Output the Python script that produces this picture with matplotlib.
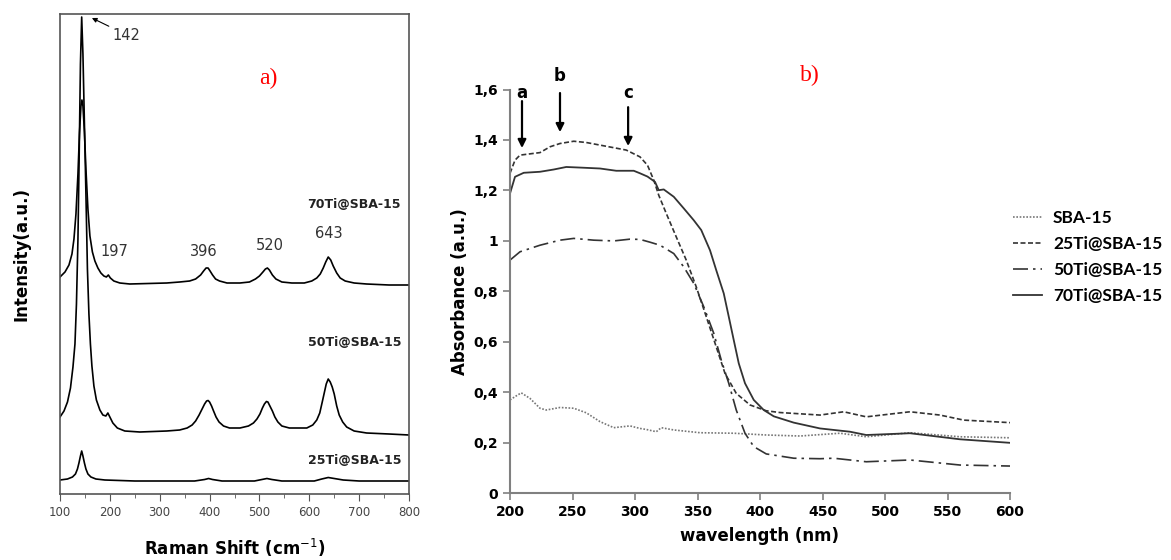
import matplotlib
matplotlib.use("Agg")
import matplotlib.pyplot as plt
from matplotlib.ticker import MultipleLocator, FuncFormatter

# ---- a) Raman spectra (stacked, arbitrary units) ----
r70_x = [100, 110, 118, 124, 128, 132, 136, 139, 142, 144, 146, 149, 152, 156, 160, 165, 170,
         176, 182, 188, 193, 197, 201, 208, 220, 240, 314, 340, 360, 372, 382, 388, 393, 397,
         401, 406, 412, 420, 435, 461, 480, 492, 500, 507, 512, 516, 520, 526, 533, 545, 565,
         590, 605, 615, 622, 628, 633, 638, 643, 648, 655, 662, 672, 690, 715, 760, 800]
r70_y = [217, 222, 229, 240, 255, 280, 320, 360, 388, 394, 388, 362, 325, 285, 258, 242, 233,
         226, 221, 218, 217, 219, 216, 213, 211, 210, 211, 212, 213, 215, 219, 223, 226, 226,
         223, 219, 215, 213, 211, 211, 212, 215, 218, 222, 225, 226, 224, 219, 215, 212, 211,
         211, 213, 216, 220, 226, 232, 237, 234, 228, 221, 216, 213, 211, 210, 209, 209]

r50_x = [100, 108, 115, 121, 126, 130, 133, 136, 138.5, 141, 143.5, 146, 149, 152, 155, 158,
         161, 164, 168, 173, 180, 186, 192, 196, 200, 206, 215, 230, 260, 314, 340, 355, 365,
         372, 379, 385, 390, 394, 397, 400, 404, 408, 413, 419, 428, 440, 461, 478, 488, 495,
         501, 506, 510, 514, 517, 521, 526, 531, 537, 545, 560, 595, 607, 615, 621, 626, 630,
         634, 638, 642, 646, 650, 655, 660, 667, 675, 690, 715, 760, 800]
r50_y = [77, 83, 92, 106, 127, 150, 190, 255, 340, 430, 477, 440, 370, 300, 225, 180,
         150, 128, 108, 94, 84, 79, 78, 81, 77, 71, 66, 63, 62, 63, 64, 66, 69,
         73, 79, 85, 90, 93, 93.5, 92, 88, 83, 77, 72, 68, 66, 66, 68, 71, 75,
         80, 86, 90, 92.5, 92, 88, 83, 77, 72, 68, 66, 66, 69, 74, 81, 92, 101,
         110, 115, 112, 107, 100, 88, 79, 72, 67, 63, 61, 60, 59]

r25_x = [100, 115, 125, 131, 135, 138, 141, 143.5, 146, 149, 152, 156, 162, 172, 190, 250, 370,
         390, 398, 406, 425, 490, 505, 515, 525, 545, 610, 625, 638, 650, 668, 700, 800]
r25_y = [14, 15, 17, 20, 25, 31, 38, 43, 38, 31, 25, 20, 17, 15, 14, 13, 13,
         14.5, 15.5, 14.5, 13, 13, 14.5, 15.5, 14.5, 13, 13, 15, 16.5, 15.5, 14, 13, 13]

raman_names = ["70Ti@SBA-15", "50Ti@SBA-15", "25Ti@SBA-15"]
peak_labels = ["197", "396", "520", "643"]

# ---- b) UV-vis absorbance ----
sba_x = [200, 204, 209, 216, 224, 229, 240, 251, 261, 272, 283, 296, 304, 309, 317, 321, 331,
         352, 379, 405, 432, 464, 485, 520, 560, 600]
sba_y = [0.37, 0.383, 0.398, 0.376, 0.337, 0.33, 0.34, 0.337, 0.319, 0.284, 0.26, 0.267, 0.257,
         0.253, 0.244, 0.26, 0.251, 0.24, 0.238, 0.231, 0.227, 0.238, 0.224, 0.24, 0.224, 0.22]

t25_x = [200, 204, 208, 216, 224, 232, 240, 251, 261, 277, 293, 304, 310, 315, 319, 325, 333,
         341, 349, 357, 365, 372, 381, 392, 405, 416, 432, 448, 467, 485, 520, 544, 563, 600]
t25_y = [1.268, 1.32, 1.34, 1.345, 1.35, 1.373, 1.386, 1.395, 1.39, 1.375, 1.36, 1.333, 1.3,
         1.241, 1.181, 1.109, 1.016, 0.924, 0.818, 0.70, 0.58, 0.475, 0.396, 0.35, 0.327, 0.32,
         0.315, 0.31, 0.323, 0.303, 0.323, 0.31, 0.29, 0.28]

t50_x = [200, 208, 224, 240, 251, 267, 283, 296, 304, 312, 320, 331, 339, 347, 355, 363, 369,
         375, 381, 388, 395, 405, 427, 448, 459, 485, 520, 560, 600]
t50_y = [0.924, 0.957, 0.983, 1.003, 1.01, 1.003, 1.0, 1.007, 1.006, 0.995, 0.983, 0.95, 0.897,
         0.832, 0.739, 0.634, 0.528, 0.436, 0.33, 0.238, 0.185, 0.156, 0.139, 0.137, 0.139,
         0.125, 0.132, 0.112, 0.108]

t70_x = [200, 204, 211, 224, 235, 245, 259, 272, 285, 299, 304, 310, 316, 319, 323, 331, 339,
         347, 353, 360, 365, 371, 375, 379, 383, 388, 395, 403, 411, 427, 448, 472, 485, 520,
         560, 600]
t70_y = [1.188, 1.254, 1.27, 1.274, 1.283, 1.293, 1.29, 1.287, 1.278, 1.278, 1.268, 1.255,
         1.234, 1.201, 1.204, 1.175, 1.129, 1.082, 1.043, 0.963, 0.884, 0.792, 0.70, 0.607,
         0.515, 0.436, 0.37, 0.33, 0.305, 0.28, 0.257, 0.244, 0.231, 0.238, 0.214, 0.20]

uv_names = ["SBA-15", "25Ti@SBA-15", "50Ti@SBA-15", "70Ti@SBA-15"]
arrow_labels = ["a", "b", "c"]
arrow_x = [209.6, 240, 294.5]

W, H = 1171, 560
fig = plt.figure(figsize=(W / 100, H / 100), dpi=100)

# ---------------- panel a ----------------
ax1 = fig.add_axes([60 / W, 1 - 494 / H, 349 / W, 480 / H])
for xs, ys in [(r70_x, r70_y), (r50_x, r50_y), (r25_x, r25_y)]:
    ax1.plot(xs, ys, color="black", lw=1.2)
ax1.set_xlim(100, 800)
ax1.set_ylim(0, 480)
ax1.set_yticks([])
ax1.xaxis.set_major_locator(MultipleLocator(100))
ax1.xaxis.set_minor_locator(MultipleLocator(50))
ax1.tick_params(axis="x", which="both", direction="out", colors="#555555",
                labelsize=8.5, labelcolor="#444444")
ax1.tick_params(axis="x", which="major", length=5)
ax1.tick_params(axis="x", which="minor", length=3)
for s in ax1.spines.values():
    s.set_color("#555555")
    s.set_linewidth(1.2)
ax1.set_xlabel("Raman Shift (cm$^{-1}$)", fontsize=12, fontweight="bold", labelpad=13)
ax1.set_ylabel("Intensity(a.u.)", fontsize=12, fontweight="bold", labelpad=21)

lab_kw = dict(fontsize=9, fontweight="bold", ha="right", va="center", color="#222222")
ax1.text(784, 289, raman_names[0], **lab_kw)
ax1.text(784, 151, raman_names[1], **lab_kw)
ax1.text(784, 33, raman_names[2], **lab_kw)

pk_pos = [(210, 242), (389, 242), (521, 248), (640, 260)]
for t, (px, py) in zip(peak_labels, pk_pos):
    ax1.text(px, py, t, fontsize=10.5, ha="center", va="center", color="#333333")
ax1.annotate("142", xy=(164, 476), xytext=(206, 459), fontsize=10.5, color="#333333",
             va="center", ha="left",
             arrowprops=dict(arrowstyle="-|>", lw=0.8, color="black", mutation_scale=7,
                             shrinkA=1, shrinkB=0))
ax1.text(517, 416, "a)", color="red", fontsize=17, family="Liberation Serif",
         ha="center", va="center")

# ---------------- panel b ----------------
ax2 = fig.add_axes([510 / W, 1 - 493.3 / H, 500 / W, 403.8 / H])
ax2.plot(sba_x, sba_y, color="#777777", lw=1.2, ls=(0, (1, 1)), label=uv_names[0])
ax2.plot(t25_x, t25_y, color="#333333", lw=1.2, ls=(0, (3, 1.5)), label=uv_names[1])
ax2.plot(t50_x, t50_y, color="#333333", lw=1.2, ls=(0, (9, 3, 1.5, 3)), label=uv_names[2])
ax2.plot(t70_x, t70_y, color="#333333", lw=1.3, ls="-", label=uv_names[3])
ax2.set_xlim(200, 600)
ax2.set_ylim(0, 1.6)
ax2.xaxis.set_major_locator(MultipleLocator(50))
ax2.yaxis.set_major_locator(MultipleLocator(0.2))
ax2.yaxis.set_major_formatter(FuncFormatter(lambda v, p: f"{v:g}".replace(".", ",")))
for s in ["top", "right"]:
    ax2.spines[s].set_visible(False)
for s in ["left", "bottom"]:
    ax2.spines[s].set_color("#808080")
    ax2.spines[s].set_linewidth(1.5)
ax2.tick_params(direction="out", length=5, width=1.2, colors="#808080", labelcolor="black")
for lbl in ax2.get_xticklabels() + ax2.get_yticklabels():
    lbl.set_fontweight("bold")
    lbl.set_fontsize(10)
ax2.set_xlabel("wavelength (nm)", fontsize=12, fontweight="bold", labelpad=6)
ax2.set_ylabel("Absorbance (a.u.)", fontsize=12, fontweight="bold", labelpad=3)

tops = [1.554, 1.586, 1.53]
tips = [1.368, 1.431, 1.376]
txt_y = [1.585, 1.653, 1.585]
for t, x, y0, y1, ty in zip(arrow_labels, arrow_x, tops, tips, txt_y):
    ax2.annotate("", xy=(x, y1), xytext=(x, y0),
                 arrowprops=dict(arrowstyle="-|>", lw=1.6, color="black", mutation_scale=12,
                                 shrinkA=0, shrinkB=0), annotation_clip=False)
    ax2.text(x, ty, t, fontsize=12, fontweight="bold", ha="center", va="center", clip_on=False)

ax2.legend(loc="upper left", bbox_to_anchor=(997 / W, 1 - 194 / H),
           bbox_transform=fig.transFigure, frameon=False, handlelength=1.7,
           handletextpad=0.63, labelspacing=0.58,
           prop=dict(family="Lato", weight="bold", size=12.5))

fig.text(810 / W, 1 - 75 / H, "b)", color="red", fontsize=17, family="Liberation Serif",
         ha="center", va="center")

fig.savefig("out.png", dpi=100)
